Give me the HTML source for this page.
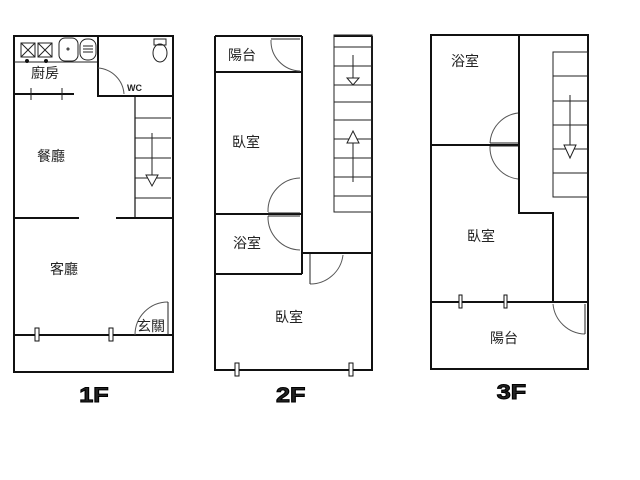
<!DOCTYPE html>
<html><head><meta charset="utf-8"><style>
html,body{margin:0;padding:0;background:#fff;width:640px;height:480px;overflow:hidden}
svg{display:block}
text{font-family:"Liberation Sans","Noto Sans CJK TC",sans-serif;fill:#222}
</style></head><body>
<svg width="640" height="480" viewBox="0 0 640 480" xmlns="http://www.w3.org/2000/svg">
<g fill="none" stroke="#111" stroke-width="2">
<!-- 1F -->
<rect x="14" y="36" width="159" height="336"/>
<polyline points="98,36 98,96 173,96"/>
<line x1="14" y1="94" x2="74" y2="94"/>
<line x1="14" y1="218" x2="79" y2="218"/>
<line x1="116" y1="218" x2="172" y2="218"/>
<line x1="14" y1="335" x2="173" y2="335"/>
<line x1="135" y1="97" x2="135" y2="218" stroke-width="1.2"/>
</g>
<g fill="none" stroke="#222" stroke-width="1">
<line x1="135" y1="118" x2="171" y2="118"/><line x1="135" y1="138" x2="171" y2="138"/>
<line x1="135" y1="158" x2="171" y2="158"/><line x1="135" y1="178" x2="171" y2="178"/>
<line x1="135" y1="198" x2="171" y2="198"/>
<line x1="152" y1="133" x2="152" y2="176"/>
<polygon points="146,175 158,175 152,186" fill="#fff"/>
<line x1="31" y1="88" x2="31" y2="100"/><line x1="62" y1="88" x2="62" y2="100"/>
<polyline points="14,62 97,62"/>
<rect x="59" y="38" width="19" height="23" rx="6"/>
<circle cx="68" cy="49" r="1"/>
<rect x="80" y="39" width="16" height="21" rx="7"/>
<line x1="83" y1="46" x2="93" y2="46"/><line x1="83" y1="49" x2="93" y2="49"/><line x1="83" y1="52" x2="93" y2="52"/>
<rect x="21" y="43" width="14" height="14"/><line x1="21" y1="43" x2="35" y2="57"/><line x1="35" y1="43" x2="21" y2="57"/>
<rect x="38" y="43" width="14" height="14"/><line x1="38" y1="43" x2="52" y2="57"/><line x1="52" y1="43" x2="38" y2="57"/>
<rect x="154" y="39" width="12" height="6"/>
<ellipse cx="160" cy="53" rx="7" ry="9"/>
<path d="M98,68 A28,28 0 0 1 124,94" stroke="#555"/>
<path d="M168,302 A33,33 0 0 0 135,335" stroke="#555"/>
<line x1="168" y1="302" x2="168" y2="335"/>
</g>
<g fill="#fff" stroke="#111" stroke-width="1">
<rect x="35" y="328" width="4" height="13"/><rect x="109" y="328" width="4" height="13"/>
<circle cx="27" cy="61" r="1.5" fill="#111"/><circle cx="46" cy="61" r="1.5" fill="#111"/>
</g>
<!-- 2F -->
<g fill="none" stroke="#111" stroke-width="2">
<polyline points="215,36 215,370 372,370 372,36"/>
<line x1="215" y1="36" x2="302" y2="36"/>
<line x1="334" y1="36" x2="372" y2="36"/>
<line x1="215" y1="72" x2="302" y2="72"/>
<line x1="215" y1="214" x2="302" y2="214"/>
<line x1="215" y1="274" x2="302" y2="274"/>
<line x1="302" y1="36" x2="302" y2="274"/>
<line x1="302" y1="253" x2="372" y2="253"/>
</g>
<g fill="none" stroke="#222" stroke-width="1">
<rect x="334" y="35" width="38" height="177"/>
<line x1="334" y1="47" x2="372" y2="47"/><line x1="334" y1="66" x2="372" y2="66"/>
<line x1="334" y1="85" x2="372" y2="85"/><line x1="334" y1="102" x2="372" y2="102"/>
<line x1="334" y1="120" x2="372" y2="120"/><line x1="334" y1="139" x2="372" y2="139"/>
<line x1="334" y1="158" x2="372" y2="158"/><line x1="334" y1="177" x2="372" y2="177"/>
<line x1="334" y1="196" x2="372" y2="196"/>
<line x1="353" y1="55" x2="353" y2="80"/><polygon points="347,78 359,78 353,85" fill="#fff"/>
<line x1="353" y1="140" x2="353" y2="182"/><polygon points="347,143 359,143 353,131" fill="#fff"/>
<path d="M271,40 A30,30 0 0 0 300,71" stroke="#555"/><line x1="271" y1="39" x2="300" y2="39"/>
<path d="M300,178 A33,33 0 0 0 268,212" stroke="#555"/>
<path d="M268,216 A33,33 0 0 0 300,250" stroke="#555"/>
<line x1="268" y1="213" x2="300" y2="213"/><line x1="268" y1="216" x2="300" y2="216"/>
<path d="M343,255 A33,33 0 0 1 310,284" stroke="#555"/><line x1="310" y1="254" x2="310" y2="284"/>
</g>
<g fill="#fff" stroke="#111" stroke-width="1">
<rect x="235" y="363" width="4" height="13"/><rect x="349" y="363" width="4" height="13"/>
</g>
<!-- 3F -->
<g fill="none" stroke="#111" stroke-width="2">
<rect x="431" y="35" width="157" height="334"/>
<polyline points="519,35 519,213 553,213 553,302"/>
<line x1="431" y1="145" x2="519" y2="145"/>
<line x1="431" y1="302" x2="588" y2="302"/>
</g>
<g fill="none" stroke="#222" stroke-width="1">
<rect x="553" y="52" width="35" height="145"/>
<line x1="553" y1="76" x2="588" y2="76"/><line x1="553" y1="101" x2="588" y2="101"/>
<line x1="553" y1="125" x2="588" y2="125"/><line x1="553" y1="149" x2="588" y2="149"/>
<line x1="553" y1="173" x2="588" y2="173"/>
<line x1="570" y1="95" x2="570" y2="148"/><polygon points="564,145 576,145 570,158" fill="#fff"/>
<path d="M518,113 A32,32 0 0 0 490,143" stroke="#555"/>
<path d="M490,146 A32,32 0 0 0 518,179" stroke="#555"/>
<line x1="490" y1="143" x2="518" y2="143"/><line x1="490" y1="146" x2="518" y2="146"/>
<path d="M553,304 A33,33 0 0 0 585,334" stroke="#555"/><line x1="585" y1="304" x2="585" y2="334"/>
</g>
<g fill="#fff" stroke="#111" stroke-width="1">
<rect x="459" y="295" width="3" height="13"/><rect x="504" y="295" width="3" height="13"/>
</g>
<g font-size="14">
<text x="31" y="78">廚房</text>
<text x="37" y="161">餐廳</text>
<text x="50" y="274">客廳</text>
<text x="137" y="331">玄關</text>
<text x="228" y="60">陽台</text>
<text x="232" y="147">臥室</text>
<text x="233" y="248">浴室</text>
<text x="275" y="322">臥室</text>
<text x="451" y="66">浴室</text>
<text x="467" y="241">臥室</text>
<text x="490" y="343">陽台</text>
</g>
<text x="127" y="91" font-size="9" font-weight="bold">WC</text>
<g font-size="21" font-weight="bold" stroke="#000" stroke-width="1" style="font-family:'Liberation Sans',sans-serif" transform="scale(1.2,1)">
<text x="66" y="402" fill="#000">1F</text>
<text x="230" y="402" fill="#000">2F</text>
<text x="414" y="399" fill="#000">3F</text>
</g>
</svg>
</body></html>
